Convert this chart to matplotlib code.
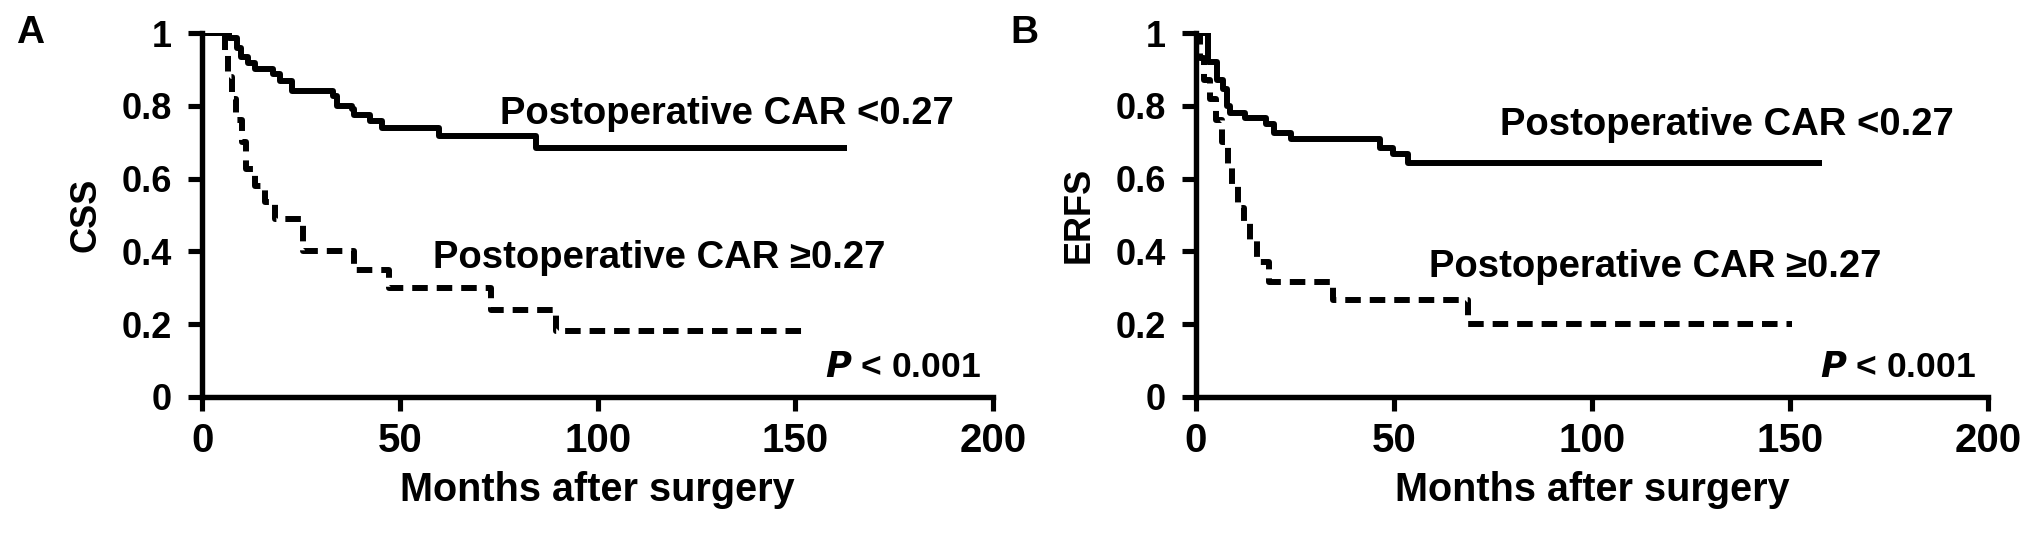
import matplotlib
matplotlib.use("Agg")
import matplotlib.pyplot as plt

plt.rcParams["font.family"] = ["Liberation Sans", "DejaVu Sans"]
plt.rcParams["font.weight"] = "bold"

# Panel A: cancer-specific survival (months, survival after each step)
css_low_t = [0, 6.7, 8.8, 9.8, 11.5, 13.4, 18.0, 19.7, 22.7, 33.0, 34.2, 37.9, 38.5, 42.5, 45.5, 59.8, 84.3, 163]
css_low_s = [1.0, 0.985, 0.96, 0.935, 0.917, 0.90, 0.886, 0.868, 0.842, 0.826, 0.80, 0.79, 0.776, 0.758, 0.74, 0.717, 0.685, 0.685]
css_high_t = [0, 5.8, 6.5, 7.5, 8.5, 10.0, 11.0, 13.5, 16.0, 18.5, 25.5, 38.3, 47.2, 73.0, 89.5, 153]
css_high_s = [1.0, 0.95, 0.88, 0.82, 0.76, 0.70, 0.625, 0.58, 0.535, 0.49, 0.40, 0.35, 0.30, 0.24, 0.182, 0.182]

# Panel B: extrahepatic recurrence-free survival
erfs_low_t = [0, 2.9, 5.4, 6.8, 7.7, 8.5, 12.3, 17.6, 19.8, 24.1, 46.5, 49.7, 53.5, 158]
erfs_low_s = [1.0, 0.92, 0.87, 0.845, 0.80, 0.78, 0.767, 0.75, 0.726, 0.71, 0.685, 0.667, 0.644, 0.644]
erfs_high_t = [0, 1.0, 2.0, 3.5, 5.0, 6.5, 8.0, 9.0, 10.5, 12.0, 13.5, 15.5, 18.5, 34.6, 68.7, 150.5]
erfs_high_s = [1.0, 0.93, 0.87, 0.82, 0.76, 0.70, 0.64, 0.58, 0.52, 0.48, 0.43, 0.37, 0.315, 0.267, 0.20, 0.20]

panels = [
    ("A", "CSS", css_low_t, css_low_s, css_high_t, css_high_s,
     (190.0, 0.777), (172.7, 0.382)),
    ("B", "ERFS", erfs_low_t, erfs_low_s, erfs_high_t, erfs_high_s,
     (191.4, 0.747), (173.2, 0.357)),
]
x_ticks = [0, 50, 100, 150, 200]
y_ticks = [0, 0.2, 0.4, 0.6, 0.8, 1]
y_tick_labels = ["0", "0.2", "0.4", "0.6", "0.8", "1"]

fig = plt.figure(figsize=(20.31, 5.34), dpi=100)
axes_rects = [
    [0.0995, 0.2566, 0.3895, 0.6816],
    [0.5889, 0.2566, 0.3899, 0.6816],
]

for rect, (letter, ylab, lt, ls, ht, hs, pos_low, pos_high) in zip(axes_rects, panels):
    ax = fig.add_axes(rect)
    ax.step(lt, ls, where="post", color="black", lw=4.3, solid_capstyle="butt")
    ax.step(ht, hs, where="post", color="black", lw=4.3,
            linestyle=(0, (2.6, 1.5)), dash_capstyle="butt")

    ax.set_xlim(0, 200)
    ax.set_ylim(0, 1)
    ax.spines["top"].set_visible(False)
    ax.spines["right"].set_visible(False)
    for sp in ("left", "bottom"):
        ax.spines[sp].set_linewidth(3.9)
        ax.spines[sp].set_capstyle("projecting")

    ax.set_xticks(x_ticks)
    ax.set_yticks(y_ticks)
    ax.set_yticklabels(y_tick_labels)
    ax.tick_params(axis="both", direction="out", length=10, width=3.7)
    ax.tick_params(axis="y", labelsize=26, pad=12)
    ax.tick_params(axis="x", labelsize=29, pad=8)
    for lab in ax.get_xticklabels() + ax.get_yticklabels():
        lab.set_fontweight("bold")

    ax.set_xlabel("Months after surgery", fontsize=28.5, fontweight="bold",
                  labelpad=8)
    ax.set_ylabel(ylab, fontsize=26, fontweight="bold")
    ax.yaxis.set_label_coords(-0.125, 0.5)

    ax.text(pos_low[0], pos_low[1], "Postoperative CAR <0.27", fontsize=27.5,
            fontweight="bold", ha="right", va="center")
    ax.text(pos_high[0], pos_high[1], "Postoperative CAR \u22650.27", fontsize=27.5,
            fontweight="bold", ha="right", va="center")
    ax.text(197, 0.082, "$\\bfit{P}$ < 0.001", fontsize=25.5, fontweight="bold",
            ha="right", va="center")

    ax.text(-0.235, 1.0, letter, transform=ax.transAxes, fontsize=28,
            fontweight="bold", ha="left", va="center")

fig.savefig("out.png", dpi=100)
